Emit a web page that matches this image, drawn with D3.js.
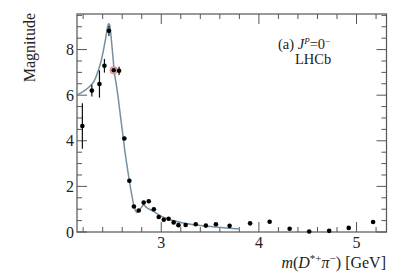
<!DOCTYPE html>
<html>
<head>
<meta charset="utf-8">
<script src="https://cdn.jsdelivr.net/npm/d3@7"></script>
<style>
  body { margin: 0; background: #fff; }
  svg text { fill: #222; }
</style>
</head>
<body>
<div id="chart"></div>
<script>
// measured points (mass in GeV, magnitude, error)
var massPts = [2.192, 2.289, 2.367, 2.418, 2.464, 2.513, 2.568, 2.622, 2.673, 2.72, 2.769, 2.82, 2.872,
    2.924, 2.974, 3.026, 3.075, 3.127, 3.176, 3.25, 3.353, 3.457, 3.56, 3.70, 3.91, 4.11, 4.315, 4.515,
    4.72, 4.92, 5.17];
var magPts = [4.65, 6.2, 6.49, 7.29, 8.82, 7.09, 7.07, 4.1, 2.25, 1.12, 0.94, 1.29, 1.35,
    1.0, 0.66, 0.54, 0.58, 0.42, 0.3, 0.31, 0.34, 0.28, 0.34, 0.27, 0.38, 0.45, 0.14, 0.02,
    0.05, 0.18, 0.44];
var errPts = [1.0, 0.26, 0.6, 0.3, 0.22, 0.1, 0.18, 0.08, 0.06, 0.05, 0.05, 0.06, 0.06,
    0.05, 0.05, 0.05, 0.05, 0.05, 0.04, 0.04, 0.04, 0.04, 0.04, 0.04, 0.04, 0.04, 0.04, 0.04,
    0.04, 0.04, 0.04];
var highlightIndex = 5;

// fitted lineshape
var curveMass = [2.137, 2.168, 2.22, 2.271, 2.312, 2.357, 2.384, 2.408, 2.431, 2.446, 2.46, 2.47, 2.482,
    2.493, 2.505, 2.517, 2.54, 2.563, 2.585, 2.608, 2.632, 2.655, 2.673, 2.699, 2.72, 2.75, 2.771,
    2.797, 2.817, 2.848, 2.92, 3.003, 3.096, 3.2, 3.353, 3.508, 3.663, 3.807];
var curveMag = [6.03, 6.08, 6.22, 6.4, 6.62, 7.1, 7.5, 7.98, 8.5, 8.9, 9.13, 9.1, 8.75,
    8.25, 7.7, 7.1, 6.45, 5.75, 4.98, 4.22, 3.4, 2.75, 2.25, 1.6, 1.15, 0.86, 0.92,
    1.08, 1.18, 1.08, 0.9, 0.68, 0.53, 0.42, 0.31, 0.24, 0.18, 0.13];

var xMajor = [3, 4, 5];
var yMajor = [0, 2, 4, 6, 8];

function draw() {
    var W = 407, H = 277;
    var pl = 77, pr = 386.5, pt = 14, pb = 232;

    var svg = d3.select("#chart").append("svg")
        .attr("width", W)
        .attr("height", H)
        .attr("font-family", "'Liberation Serif', 'Times New Roman', Times, serif");

    var x = d3.scaleLinear().domain([2.137, 5.307]).range([pl, pr]);
    var y = d3.scaleLinear().domain([0, 9.56]).range([pb, pt]);

    // minor ticks every 0.2 GeV and 0.5 in magnitude
    var xMinor = d3.range(2.2, 5.31, 0.2).filter(function (v) {
        return xMajor.every(function (m) { return Math.abs(m - v) > 1e-6; });
    });
    var yMinor = d3.range(0.5, 9.56, 0.5).filter(function (v) {
        return yMajor.every(function (m) { return Math.abs(m - v) > 1e-6; });
    });

    function tickLines(g, vals, len, orient) {
        var horiz = orient == "b" || orient == "t";
        g.append("g").selectAll("line")
            .data(vals)
            .enter()
            .append("line")
            .attr("stroke", "#555")
            .attr("stroke-width", 1)
            .attr("x1", function (d) { return horiz ? x(d) : (orient == "l" ? pl : pr); })
            .attr("x2", function (d) { return horiz ? x(d) : (orient == "l" ? pl + len : pr - len); })
            .attr("y1", function (d) { return orient == "b" ? pb : orient == "t" ? pt : y(d); })
            .attr("y2", function (d) { return orient == "b" ? pb - len : orient == "t" ? pt + len : y(d); });
    }

    var axes = svg.append("g");
    tickLines(axes, xMajor, 10, "b");
    tickLines(axes, xMinor, 5, "b");
    tickLines(axes, xMajor, 10, "t");
    tickLines(axes, xMinor, 5, "t");
    tickLines(axes, yMajor, 10, "l");
    tickLines(axes, yMinor, 5, "l");
    tickLines(axes, yMajor, 10, "r");
    tickLines(axes, yMinor, 5, "r");

    axes.append("rect")
        .attr("x", pl).attr("y", pt)
        .attr("width", pr - pl).attr("height", pb - pt)
        .attr("fill", "none")
        .attr("stroke", "#555")
        .attr("stroke-width", 1.2);

    // tick labels
    svg.append("g").selectAll("text")
        .data(xMajor)
        .enter()
        .append("text")
        .attr("x", function (d) { return x(d); })
        .attr("y", 248)
        .attr("text-anchor", "middle")
        .style("font-size", "16px")
        .text(function (d) { return d; });

    svg.append("g").selectAll("text")
        .data(yMajor)
        .enter()
        .append("text")
        .attr("x", 74)
        .attr("y", function (d) { return y(d) + 5.5; })
        .attr("text-anchor", "end")
        .style("font-size", "16px")
        .text(function (d) { return d; });

    // axis titles
    svg.append("text")
        .attr("transform", "translate(35,13) rotate(-90)")
        .attr("text-anchor", "end")
        .style("font-size", "16px")
        .text("Magnitude");

    var xt = svg.append("text")
        .attr("x", 386)
        .attr("y", 268)
        .attr("text-anchor", "end")
        .style("font-size", "16px");
    xt.append("tspan").style("font-style", "italic").text("m");
    xt.append("tspan").text("(");
    xt.append("tspan").style("font-style", "italic").text("D");
    xt.append("tspan").attr("dy", -6).style("font-size", "11px").text("*+");
    xt.append("tspan").attr("dy", 6).style("font-style", "italic").text("π");
    xt.append("tspan").attr("dy", -6).style("font-size", "11px").text("−");
    xt.append("tspan").attr("dy", 6).text(") [GeV]");

    // legend text
    var lt = svg.append("text")
        .attr("x", 278)
        .attr("y", 49)
        .style("font-size", "14.5px");
    lt.append("tspan").text("(a) ");
    lt.append("tspan").style("font-style", "italic").text("J");
    lt.append("tspan").attr("dy", -5).style("font-size", "9px").style("font-style", "italic").text("P");
    lt.append("tspan").attr("dy", 5).text("=0");
    lt.append("tspan").attr("dy", -5).style("font-size", "9px").text("−");

    svg.append("text")
        .attr("x", 295)
        .attr("y", 64)
        .style("font-size", "14.5px")
        .text("LHCb");

    // fitted curve
    var line = d3.line()
        .x(function (d, i) { return x(curveMass[i]); })
        .y(function (d) { return y(d); })
        .curve(d3.curveMonotoneX);

    svg.append("path")
        .attr("d", line(curveMag))
        .attr("fill", "none")
        .attr("stroke", "#7590a0")
        .attr("stroke-width", 1.5);

    // error bars
    svg.append("g").selectAll("line")
        .data(magPts)
        .enter()
        .append("line")
        .attr("x1", function (d, i) { return x(massPts[i]); })
        .attr("x2", function (d, i) { return x(massPts[i]); })
        .attr("y1", function (d, i) { return y(d - errPts[i]); })
        .attr("y2", function (d, i) { return y(d + errPts[i]); })
        .attr("stroke", "#111")
        .attr("stroke-width", 1.2);

    // highlighted point ring
    svg.append("circle")
        .attr("cx", x(massPts[highlightIndex]))
        .attr("cy", y(magPts[highlightIndex]))
        .attr("r", 3.5)
        .attr("fill", "#f3c6c6")
        .attr("stroke", "#e08a8a")
        .attr("stroke-width", 1.2);

    svg.append("g").selectAll("circle")
        .data(magPts)
        .enter()
        .append("circle")
        .attr("cx", function (d, i) { return x(massPts[i]); })
        .attr("cy", function (d) { return y(d); })
        .attr("r", 2.3)
        .attr("fill", "#000");
}

draw();
</script>
</body>
</html>
